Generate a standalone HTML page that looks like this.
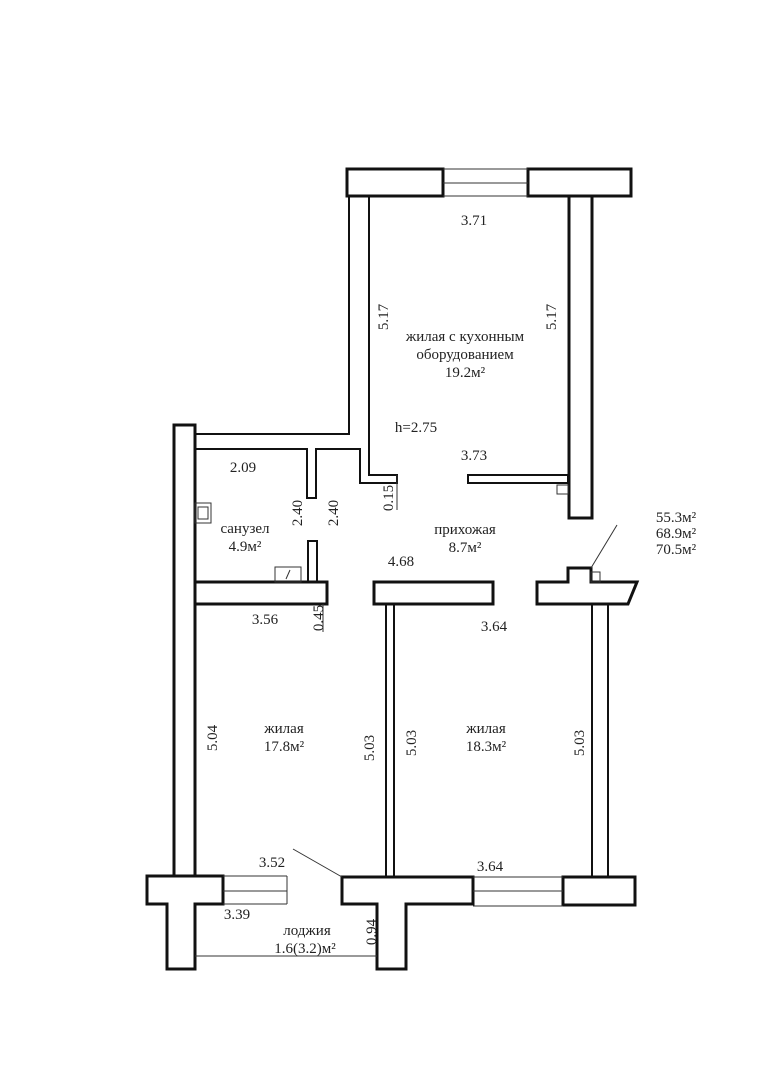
<!DOCTYPE html>
<html><head><meta charset="utf-8"><style>body{margin:0;background:#fff}svg{display:block}</style></head>
<body>
<svg width="767" height="1084" viewBox="0 0 767 1084" xmlns="http://www.w3.org/2000/svg" font-family="Liberation Serif, serif" font-size="15" fill="#222">
<g fill="#fff" stroke="#111" stroke-width="3">
<rect x="347" y="169" width="96" height="27"/>
<rect x="528" y="169" width="103" height="27"/>
<rect x="569" y="196" width="23" height="322"/>
<rect x="174" y="425" width="21" height="451"/>
<polygon points="147,876 223,876 223,904 195,904 195,969 167,969 167,904 147,904"/>
<polygon points="342,877 473,877 473,904 406,904 406,969 377,969 377,904 342,904"/>
<rect x="563" y="877" width="72" height="28"/>
<rect x="195" y="582" width="132" height="22"/>
<rect x="374" y="582" width="119" height="22"/>
<polygon points="537,582 568,582 568,568 591,568 591,582 637,582 628,604 537,604"/>
</g>
<g fill="none" stroke="#111" stroke-width="2">
<polyline points="349,196 349,434 195,434"/>
<polyline points="369,196 369,475 397,475 397,483 360,483 360,449 316,449 316,498 307,498 307,449 195,449"/>
<rect x="468" y="475" width="100" height="8"/>
<rect x="308" y="541" width="9" height="41"/>
<rect x="386" y="604" width="8" height="273"/>
<rect x="592" y="604" width="16" height="273"/>
</g>
<g fill="none" stroke="#333" stroke-width="1">
<line x1="443" y1="169" x2="528" y2="169"/><line x1="443" y1="183" x2="528" y2="183"/><line x1="443" y1="196" x2="528" y2="196"/>
<line x1="223" y1="876" x2="287" y2="876"/><line x1="223" y1="891" x2="287" y2="891"/><line x1="223" y1="904" x2="287" y2="904"/><line x1="287" y1="876" x2="287" y2="904"/>
<line x1="473" y1="877" x2="563" y2="877"/><line x1="473" y1="891" x2="563" y2="891"/><line x1="473" y1="906" x2="563" y2="906"/>
<line x1="195" y1="956" x2="377" y2="956"/>
<line x1="293" y1="849" x2="342" y2="877"/>
<line x1="617" y1="525" x2="591" y2="568"/>
<rect x="591" y="572" width="9" height="10"/>
<rect x="557" y="485" width="11" height="9"/>
<rect x="195" y="503" width="16" height="20"/><rect x="198" y="507" width="10" height="12"/>
<rect x="275" y="567" width="26" height="15"/><line x1="286" y1="579" x2="290" y2="570"/>
<line x1="397" y1="475" x2="397" y2="510"/>
<line x1="323" y1="604" x2="323" y2="632"/>
</g>
<g text-anchor="middle">
<text x="474" y="225">3.71</text>
<text x="465" y="341">жилая с кухонным</text>
<text x="465" y="359">оборудованием</text>
<text x="465" y="377">19.2м²</text>
<text x="416" y="432">h=2.75</text>
<text x="474" y="460">3.73</text>
<text x="243" y="472">2.09</text>
<text x="245" y="533">санузел</text>
<text x="245" y="551">4.9м²</text>
<text x="465" y="534">прихожая</text>
<text x="465" y="552">8.7м²</text>
<text x="401" y="566">4.68</text>
<text x="676" y="522">55.3м²</text>
<text x="676" y="538">68.9м²</text>
<text x="676" y="554">70.5м²</text>
<text x="265" y="624">3.56</text>
<text x="494" y="631">3.64</text>
<text x="284" y="733">жилая</text>
<text x="284" y="751">17.8м²</text>
<text x="486" y="733">жилая</text>
<text x="486" y="751">18.3м²</text>
<text x="272" y="867">3.52</text>
<text x="490" y="871">3.64</text>
<text x="237" y="919">3.39</text>
<text x="307" y="935">лоджия</text>
<text x="305" y="953">1.6(3.2)м²</text>
<text transform="translate(388,317) rotate(-90)">5.17</text>
<text transform="translate(556,317) rotate(-90)">5.17</text>
<text transform="translate(302,513) rotate(-90)">2.40</text>
<text transform="translate(338,513) rotate(-90)">2.40</text>
<text transform="translate(393,498) rotate(-90)">0.15</text>
<text transform="translate(323,618) rotate(-90)">0.45</text>
<text transform="translate(217,738) rotate(-90)">5.04</text>
<text transform="translate(374,748) rotate(-90)">5.03</text>
<text transform="translate(416,743) rotate(-90)">5.03</text>
<text transform="translate(584,743) rotate(-90)">5.03</text>
<text transform="translate(376,932) rotate(-90)">0.94</text>
</g>
</svg>
</body></html>
